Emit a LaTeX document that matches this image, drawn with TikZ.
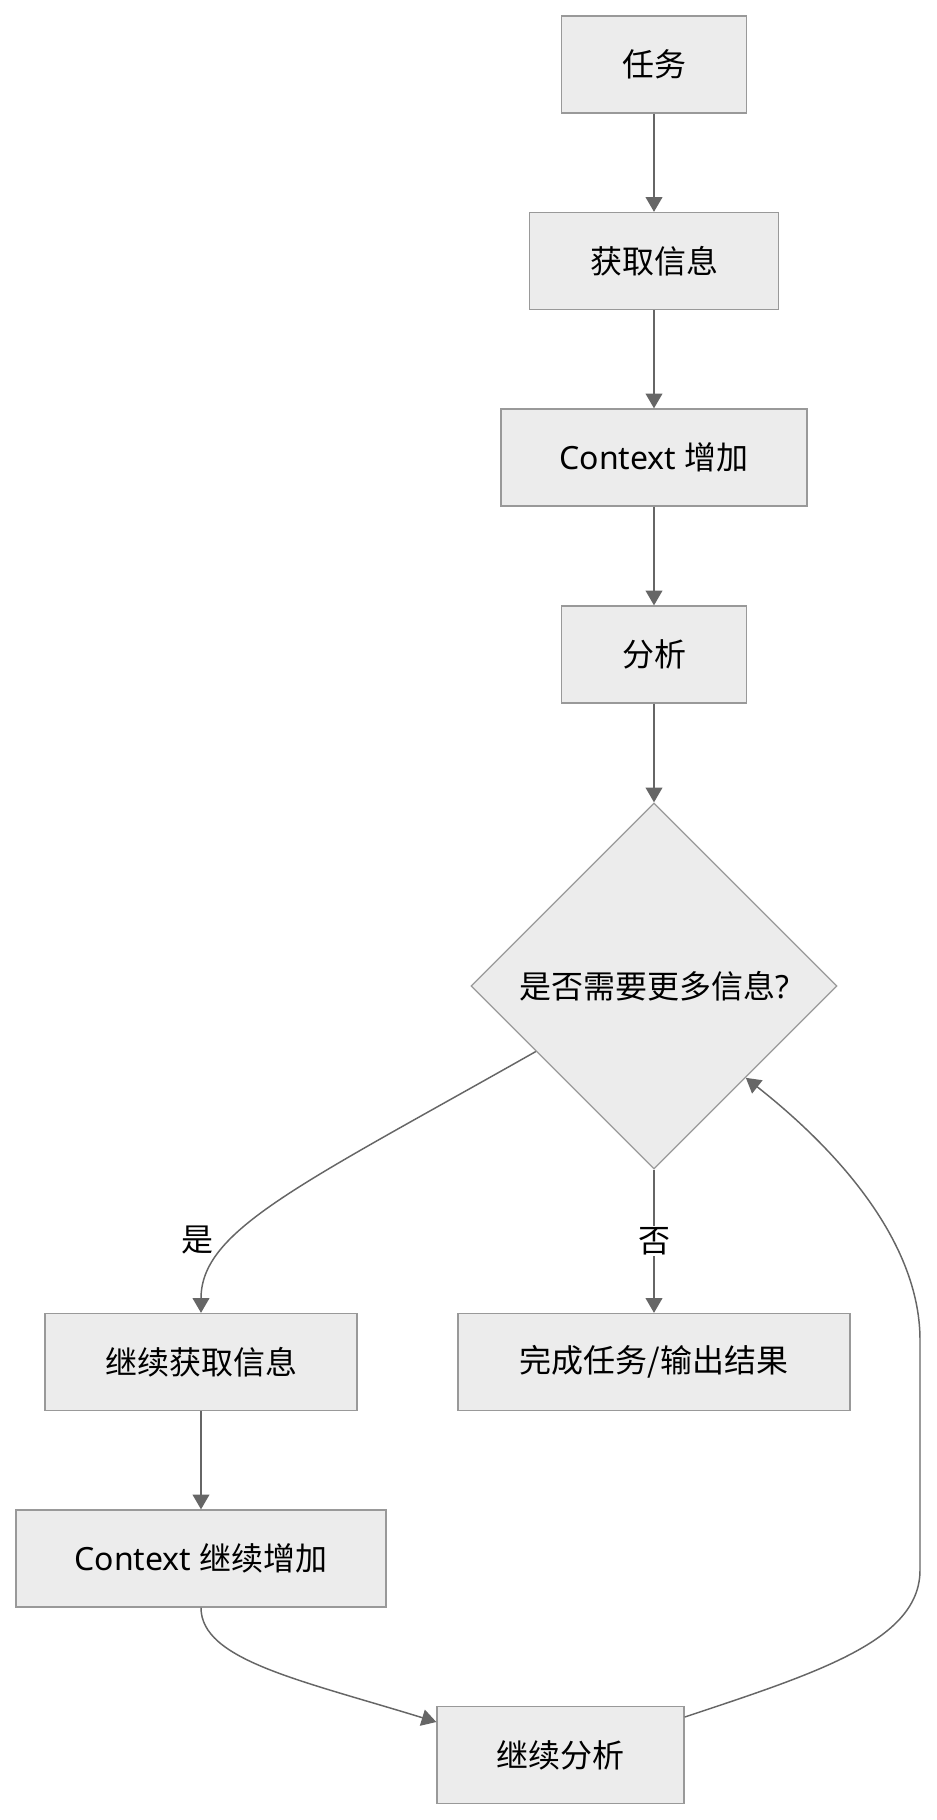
\documentclass[tikz,border=0pt]{standalone}
\usepackage{fontspec}
\setmainfont{Noto Sans}
\newfontfamily\cjk{Noto Sans CJK SC}
\usetikzlibrary{shapes.geometric,arrows.meta}
\definecolor{boxfill}{HTML}{ECECEC}
\definecolor{boxline}{HTML}{999999}
\definecolor{edgeline}{HTML}{666666}
\tikzset{
  box/.style={draw=boxline, fill=boxfill, line width=1pt, inner sep=0pt,
    minimum height={97*0.75pt}, font=\fontsize{24pt}{28pt}\selectfont, text=black},
  dec/.style={draw=boxline, fill=boxfill, line width=1pt, diamond, aspect=1, inner sep=0pt,
    minimum width={366*0.75pt}, minimum height={366*0.75pt}, font=\fontsize{24pt}{28pt}\selectfont},
  edge/.style={draw=edgeline, line width=1.1pt, -{Triangle[length=11pt,width=12.5pt]}},
  lbl/.style={font=\fontsize{24pt}{28pt}\selectfont\cjk, fill=white, inner sep=1pt, text=black}
}
\begin{document}
\begin{tikzpicture}[x=0.75pt,y=-0.75pt]
\useasboundingbox[fill=white] (0,0) rectangle (936,1820);
\node[box, minimum width={185*0.75pt}] (t1) at (654,64.5) {\cjk 任务};
\node[box, minimum width={249*0.75pt}] (t2) at (654,261) {\cjk 获取信息};
\node[box, minimum width={306*0.75pt}] (t3) at (654,457.5) {Context {\cjk 增加}};
\node[box, minimum width={185*0.75pt}] (t4) at (654,654.5) {\cjk 分析};
\node[dec] (d) at (654,986) {{\cjk 是否需要更多信息}?};
\node[box, minimum width={312*0.75pt}] (k1) at (201,1362) {\cjk 继续获取信息};
\node[box, minimum width={392*0.75pt}] (done) at (654,1362) {\cjk 完成任务/输出结果};
\node[box, minimum width={370*0.75pt}] (k2) at (201,1558.5) {Context {\cjk 继续增加}};
\node[box, minimum width={247*0.75pt}] (k3) at (560.5,1755) {\cjk 继续分析};

\draw[edge] (t1.south) -- (t2.north);
\draw[edge] (t2.south) -- (t3.north);
\draw[edge] (t3.south) -- (t4.north);
\draw[edge] (t4.south) -- (d.north);
\draw[edge] (d.209) .. controls (300,1185) and (201,1230) .. (k1.north);
\node[lbl, fill=none] at (197,1240) {是};
\draw[edge] (d.south) -- (done.north) node[lbl, pos=0.5] {否};
\draw[edge] (k1.south) -- (k2.north);
\draw[edge] (k2.south) .. controls (201,1660) and (300,1680) .. (k3.west |- 0,1722);
\draw[edge] (k3.17) .. controls (820,1672) and (920,1640) .. (920,1570) -- (920,1340)
   .. controls (920,1250) and (850,1160) .. (d.south east);
\end{tikzpicture}
\end{document}
